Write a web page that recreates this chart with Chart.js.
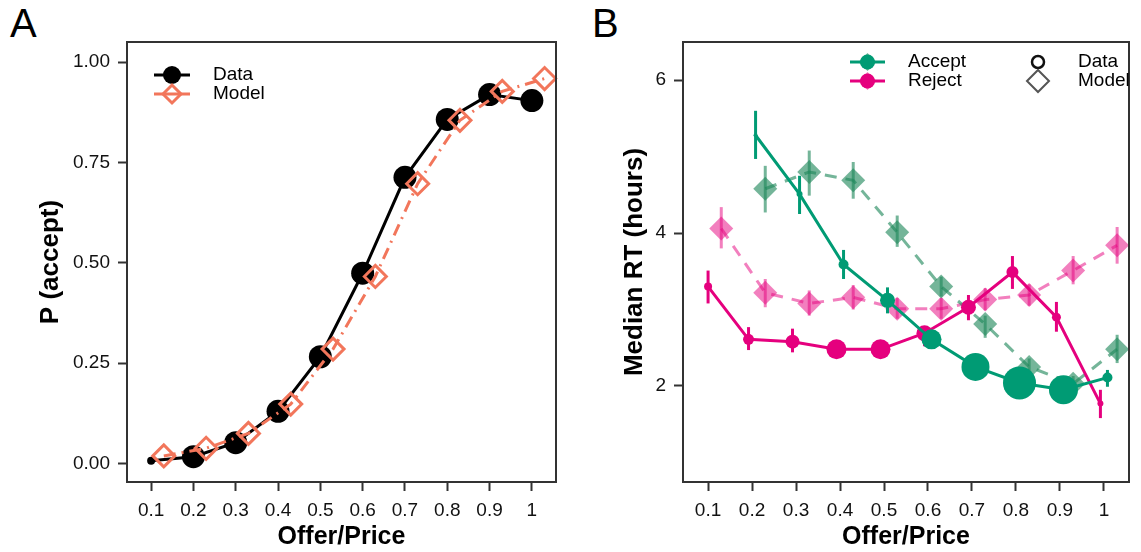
<!DOCTYPE html>
<html>
<head>
<meta charset="utf-8">
<script src="https://cdn.jsdelivr.net/npm/chart.js@4.4.1/dist/chart.umd.min.js"></script>
<style>
  body { margin: 0; background: #fff; width: 1141px; height: 552px; position: relative; overflow: hidden;
         font-family: "Liberation Sans", Arial, sans-serif; }
  .panel { position: absolute; top: 0; }
  .tag { position: absolute; font-size: 40px; line-height: 1; color: #000; }
</style>
</head>
<body>
<div class="tag" style="left:10px; top:3px;">A</div>
<div class="tag" style="left:592px; top:3px;">B</div>
<canvas id="chartA" class="panel" style="left:0" width="570" height="552"></canvas>
<canvas id="chartB" class="panel" style="left:570px" width="571" height="552"></canvas>
<script>
// shared x categories (offer / price ratio)
const offers = [0.1, 0.2, 0.3, 0.4, 0.5, 0.6, 0.7, 0.8, 0.9, 1.0];
const modelShift = 0.03;
const dodge = 0.008;

// panel A: probability of accepting
const pAcceptData  = [0.007, 0.017, 0.052, 0.130, 0.266, 0.474, 0.713, 0.857, 0.919, 0.904];
const pAcceptModel = [0.019, 0.038, 0.075, 0.148, 0.285, 0.466, 0.697, 0.855, 0.927, 0.959];
const pDataRadius  = [4, 11.5, 11.5, 11.5, 11.5, 11.5, 11.5, 11.5, 11.5, 11.5];
const pTicks = [0, 0.25, 0.5, 0.75, 1];

// panel B: median response time (hours)
const acceptRT   = [null, 5.28, 4.51, 3.59, 3.12, 2.61, 2.25, 2.04, 1.95, 2.11];
const acceptLo   = [null, 4.97, 4.25, 3.40, 2.95, 2.50, 2.17, 1.97, 1.88, 1.99];
const acceptHi   = [null, 5.60, 4.75, 3.78, 3.29, 2.72, 2.33, 2.11, 2.02, 2.21];
const acceptSize = [0, 2, 3, 5, 7.5, 10, 14, 16.5, 14.5, 5];

const rejectRT   = [3.30, 2.61, 2.58, 2.48, 2.48, 2.69, 3.03, 3.49, 2.90, 1.77];
const rejectLo   = [3.08, 2.47, 2.44, 2.40, 2.40, 2.52, 2.86, 3.27, 2.71, 1.58];
const rejectHi   = [3.51, 2.77, 2.75, 2.56, 2.56, 2.78, 3.19, 3.70, 3.10, 1.95];
const rejectSize = [4, 5.5, 7, 10, 10, 8, 7.5, 6, 4.5, 3];

const acceptModel   = [null, 4.58, 4.80, 4.69, 4.01, 3.30, 2.81, 2.25, 2.03, 2.48];
const acceptModelLo = [null, 4.27, 4.49, 4.45, 3.82, 3.17, 2.63, 2.10, 1.93, 2.30];
const acceptModelHi = [null, 4.88, 5.08, 4.93, 4.23, 3.43, 2.92, 2.36, 2.13, 2.67];

const rejectModel   = [4.06, 3.22, 3.08, 3.16, 3.01, 3.01, 3.13, 3.19, 3.51, 3.84];
const rejectModelLo = [3.80, 3.03, 2.92, 3.00, 2.88, 2.88, 2.99, 3.05, 3.33, 3.60];
const rejectModelHi = [4.34, 3.40, 3.25, 3.32, 3.15, 3.15, 3.28, 3.33, 3.70, 4.08];
const rtTicks = [2, 4, 6];

const salmon = '#F2765B';
const green = '#009B74';
const magenta = '#E5007E';
const greenModel = 'rgba(30,135,90,0.62)';
const pinkModel = 'rgba(230,0,126,0.5)';
const FONT = '"Liberation Sans", Arial, sans-serif';

Chart.defaults.font.family = FONT;
Chart.defaults.color = '#111';

const pts = (vals, shift) => vals.map((y, i) => ({ x: offers[i] + shift(i), y: y }));

// vertical error bars, drawn just before each dataset
const errorBars = {
  id: 'errorBars',
  beforeDatasetDraw(chart, args) {
    const ds = chart.data.datasets[args.index];
    if (!ds.errLo) return;
    const ctx = chart.ctx, ys = chart.scales.y;
    ctx.save();
    ctx.strokeStyle = ds.errColor;
    ctx.lineWidth = 3;
    args.meta.data.forEach((p, i) => {
      if (ds.errLo[i] == null) return;
      ctx.beginPath();
      ctx.moveTo(p.x, ys.getPixelForValue(ds.errLo[i]));
      ctx.lineTo(p.x, ys.getPixelForValue(ds.errHi[i]));
      ctx.stroke();
    });
    ctx.restore();
  }
};

const frame = {
  id: 'frame',
  afterDraw(chart) {
    const a = chart.chartArea, ctx = chart.ctx;
    ctx.save();
    ctx.strokeStyle = '#333';
    ctx.lineWidth = 2;
    ctx.strokeRect(a.left, a.top, a.right - a.left, a.bottom - a.top);
    ctx.restore();
  }
};

function diamond(ctx, x, y, r) {
  ctx.beginPath();
  ctx.moveTo(x - r, y); ctx.lineTo(x, y - r); ctx.lineTo(x + r, y); ctx.lineTo(x, y + r);
  ctx.closePath();
}

const legendA = {
  id: 'legendA',
  afterDraw(chart) {
    const ctx = chart.ctx, L = chart.chartArea.left, T = chart.chartArea.top;
    ctx.save();
    ctx.lineWidth = 3;
    // Data
    ctx.strokeStyle = '#000';
    ctx.beginPath(); ctx.moveTo(L + 27, T + 33); ctx.lineTo(L + 63, T + 33); ctx.stroke();
    ctx.fillStyle = '#000';
    ctx.beginPath(); ctx.arc(L + 45, T + 33, 9, 0, Math.PI * 2); ctx.fill();
    // Model
    ctx.strokeStyle = salmon;
    ctx.beginPath(); ctx.moveTo(L + 27, T + 52); ctx.lineTo(L + 63, T + 52); ctx.stroke();
    diamond(ctx, L + 45, T + 52, 9); ctx.stroke();
    ctx.fillStyle = '#000';
    ctx.font = '19px ' + FONT;
    ctx.textBaseline = 'middle';
    ctx.fillText('Data', L + 86, T + 33);
    ctx.fillText('Model', L + 86, T + 52);
    ctx.restore();
  }
};

const legendB = {
  id: 'legendB',
  afterDraw(chart) {
    const ctx = chart.ctx, L = chart.chartArea.left, T = chart.chartArea.top;
    ctx.save();
    [[green, greenModel, T + 20], [magenta, pinkModel, T + 39]].forEach(([c, m, y]) => {
      ctx.fillStyle = m;
      diamond(ctx, L + 184.5, y, 9); ctx.fill();
      ctx.strokeStyle = c; ctx.lineWidth = 3;
      ctx.beginPath(); ctx.moveTo(L + 167, y); ctx.lineTo(L + 202, y); ctx.stroke();
      ctx.fillStyle = c;
      ctx.beginPath(); ctx.arc(L + 184.5, y, 7.5, 0, Math.PI * 2); ctx.fill();
    });
    ctx.lineWidth = 2.5; ctx.strokeStyle = '#111';
    ctx.beginPath(); ctx.arc(L + 355, T + 20, 6, 0, Math.PI * 2); ctx.stroke();
    ctx.lineWidth = 2; ctx.strokeStyle = '#555';
    diamond(ctx, L + 355, T + 39, 11); ctx.stroke();
    ctx.fillStyle = '#000';
    ctx.font = '19px ' + FONT;
    ctx.textBaseline = 'middle';
    ctx.fillText('Accept', L + 225, T + 20);
    ctx.fillText('Reject', L + 225, T + 39);
    ctx.fillText('Data', L + 395, T + 20);
    ctx.fillText('Model', L + 395, T + 39);
    ctx.restore();
  }
};

function scales(yMin, yMax, yTicks, yFmt, yTitle, yWidth, yTitlePad) {
  return {
    x: {
      type: 'linear', min: 0.043, max: 1.057,
      afterBuildTicks: s => { s.ticks = offers.map(v => ({ value: v })); },
      afterFit: s => { s.height = 70; },
      grid: { drawOnChartArea: false, drawTicks: true, tickLength: 9, tickWidth: 2, tickColor: '#333' },
      border: { display: true, color: '#333', width: 2 },
      ticks: { padding: 8, color: '#111', font: { size: 19 }, maxRotation: 0, autoSkip: false,
               callback: v => String(+v.toFixed(1)) },
      title: { display: true, text: 'Offer/Price', color: '#000',
               font: { size: 25, weight: 'bold' }, padding: { top: 0, bottom: 0 } }
    },
    y: {
      type: 'linear', min: yMin, max: yMax,
      afterBuildTicks: s => { s.ticks = yTicks.map(v => ({ value: v })); },
      afterFit: s => { s.width = yWidth; },
      grid: { drawOnChartArea: false, drawTicks: true, tickLength: 9, tickWidth: 2, tickColor: '#333' },
      border: { display: true, color: '#333', width: 2 },
      ticks: { padding: 8, color: '#111', font: { size: 19 }, autoSkip: false, callback: yFmt },
      title: { display: true, text: yTitle, color: '#000',
               font: { size: 26, weight: 'bold' }, padding: { top: yTitlePad, bottom: 0 } }
    }
  };
}

const common = {
  responsive: false, animation: false, devicePixelRatio: 1, events: [],
  plugins: { legend: { display: false }, tooltip: { enabled: false } }
};

new Chart(document.getElementById('chartA'), {
  type: 'scatter',
  data: {
    datasets: [
      {
        label: 'Model', order: 0, showLine: true, clip: false,
        data: pts(pAcceptModel, () => modelShift),
        borderColor: salmon, borderWidth: 3, borderDash: [12, 6, 2, 6],
        pointStyle: 'rectRot', pointRadius: 11, pointBorderWidth: 3,
        pointBorderColor: salmon, pointBackgroundColor: 'rgba(0,0,0,0)'
      },
      {
        label: 'Data', order: 1, showLine: true, clip: false,
        data: pts(pAcceptData, () => 0),
        borderColor: '#000', borderWidth: 3,
        pointRadius: pDataRadius, pointBorderWidth: 0, pointBackgroundColor: '#000'
      }
    ]
  },
  options: Object.assign({}, common, {
    layout: { padding: { top: 42, right: 12, bottom: 0, left: 0 } },
    scales: scales(-0.046, 1.05, pTicks, v => v.toFixed(2), 'P (accept)', 127, 35)
  }),
  plugins: [errorBars, frame, legendA]
});

new Chart(document.getElementById('chartB'), {
  type: 'scatter',
  data: {
    datasets: [
      {
        label: 'Accept', order: 0, showLine: true, clip: false,
        data: pts(acceptRT, () => dodge),
        errLo: acceptLo, errHi: acceptHi, errColor: green,
        borderColor: green, borderWidth: 3,
        pointRadius: acceptSize, pointBorderWidth: 0, pointBackgroundColor: green
      },
      {
        label: 'Reject', order: 1, showLine: true, clip: false,
        data: pts(rejectRT, i => acceptRT[i] === null ? 0 : -dodge),
        errLo: rejectLo, errHi: rejectHi, errColor: magenta,
        borderColor: magenta, borderWidth: 3,
        pointRadius: rejectSize, pointBorderWidth: 0, pointBackgroundColor: magenta
      },
      {
        label: 'Accept model', order: 2, showLine: true, clip: false,
        data: pts(acceptModel, () => modelShift),
        errLo: acceptModelLo, errHi: acceptModelHi, errColor: greenModel,
        borderColor: greenModel, borderWidth: 3, borderDash: [12, 9],
        pointStyle: 'rectRot', pointRadius: 12, pointBorderWidth: 0, pointBackgroundColor: greenModel
      },
      {
        label: 'Reject model', order: 3, showLine: true, clip: false,
        data: pts(rejectModel, () => modelShift),
        errLo: rejectModelLo, errHi: rejectModelHi, errColor: pinkModel,
        borderColor: pinkModel, borderWidth: 3, borderDash: [12, 9],
        pointStyle: 'rectRot', pointRadius: 12, pointBorderWidth: 0, pointBackgroundColor: pinkModel
      }
    ]
  },
  options: Object.assign({}, common, {
    layout: { padding: { top: 42, right: 1, bottom: 0, left: 0 } },
    scales: scales(0.744, 6.5, rtTicks, v => String(v), 'Median RT (hours)', 113, 49)
  }),
  plugins: [errorBars, frame, legendB]
});
</script>
</body>
</html>
